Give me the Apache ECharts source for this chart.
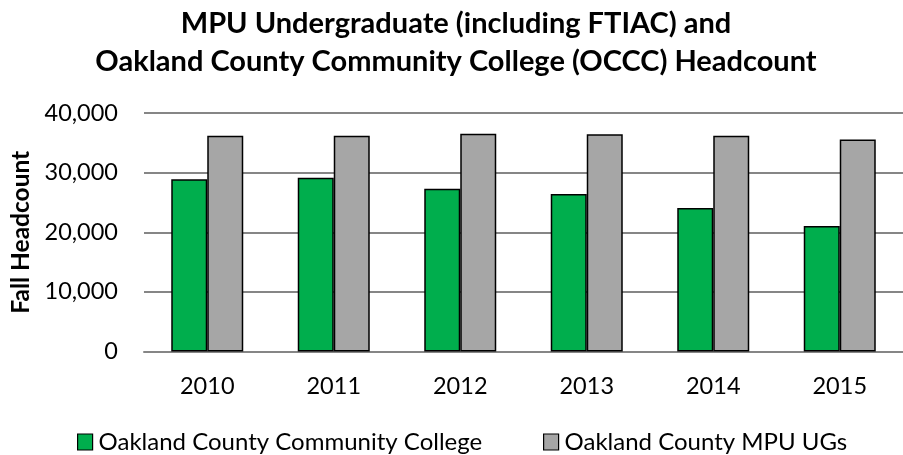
<!DOCTYPE html>
<html>
<head>
<meta charset="utf-8">
<script src="https://cdn.jsdelivr.net/npm/echarts@6/dist/echarts.min.js"></script>
<style>html,body{margin:0;padding:0;background:#fff}#c{width:903px;height:455px}</style>
</head>
<body>
<div id="c"></div>
<script>
const categories = ['2010', '2011', '2012', '2013', '2014', '2015'];
const occcValues = [28900, 29150, 27300, 26400, 24050, 21050];
const mpuValues = [36200, 36200, 36500, 36450, 36200, 35550];
const seriesNames = ['Oakland County Community College', 'Oakland County MPU UGs'];
const yTicks = [0, 10000, 20000, 30000, 40000];

const FONT = 'Lato, "Open Sans", sans-serif';
const legendText = {fontFamily: FONT, fontSize: 24, lineHeight: 28, color: '#000', padding: [0, 0, 0, 1]};
const chart = echarts.init(document.getElementById('c'), null, {renderer: 'canvas'});
chart.setOption({
  animation: false,
  backgroundColor: '#fff',
  title: {
    text: 'MPU Undergraduate (including FTIAC) and\nOakland County Community College (OCCC) Headcount',
    left: 456, top: 5, textAlign: 'center', padding: 0,
    textStyle: {fontFamily: FONT, fontWeight: 'bold', fontSize: 29, lineHeight: 38, color: '#000'}
  },
  legend: [
    {data: [seriesNames[0]], left: 77, top: 428, padding: 0, icon: 'rect', itemWidth: 15, itemHeight: 16,
     textStyle: legendText, itemStyle: {borderColor: '#000', borderWidth: 1.2}},
    {data: [seriesNames[1]], left: 543, top: 428, padding: 0, icon: 'rect', itemWidth: 15, itemHeight: 16,
     textStyle: legendText, itemStyle: {borderColor: '#000', borderWidth: 1.2}}
  ],
  grid: {left: 144, top: 113, width: 770, height: 238.5, containLabel: false},
  xAxis: {
    type: 'category', data: categories,
    axisLine: {show: true, lineStyle: {color: '#868686', width: 2}},
    axisTick: {show: false},
    axisLabel: {fontFamily: FONT, fontSize: 23.5, lineHeight: 28, color: '#000', margin: 21}
  },
  yAxis: {
    type: 'value', min: yTicks[0], max: yTicks[yTicks.length - 1], interval: 10000,
    name: 'Fall Headcount', nameLocation: 'middle', nameGap: 110, nameRotate: 90,
    nameTextStyle: {fontFamily: FONT, fontWeight: 'bold', fontSize: 24.5, color: '#000'},
    axisLine: {show: false}, axisTick: {show: false},
    axisLabel: {fontFamily: FONT, fontSize: 23.5, color: '#000', margin: 26,
      formatter: v => v.toLocaleString('en-US')},
    splitLine: {show: true, lineStyle: {color: '#868686', width: 2}}
  },
  series: [
    {name: seriesNames[0], type: 'bar', data: occcValues, barWidth: 36, barGap: '0%',
     itemStyle: {color: '#00AE4D', borderColor: '#000', borderWidth: 1.5}},
    {name: seriesNames[1], type: 'bar', data: mpuValues, barWidth: 36,
     itemStyle: {color: '#A6A6A6', borderColor: '#000', borderWidth: 1.5}}
  ]
});
</script>
</body>
</html>
